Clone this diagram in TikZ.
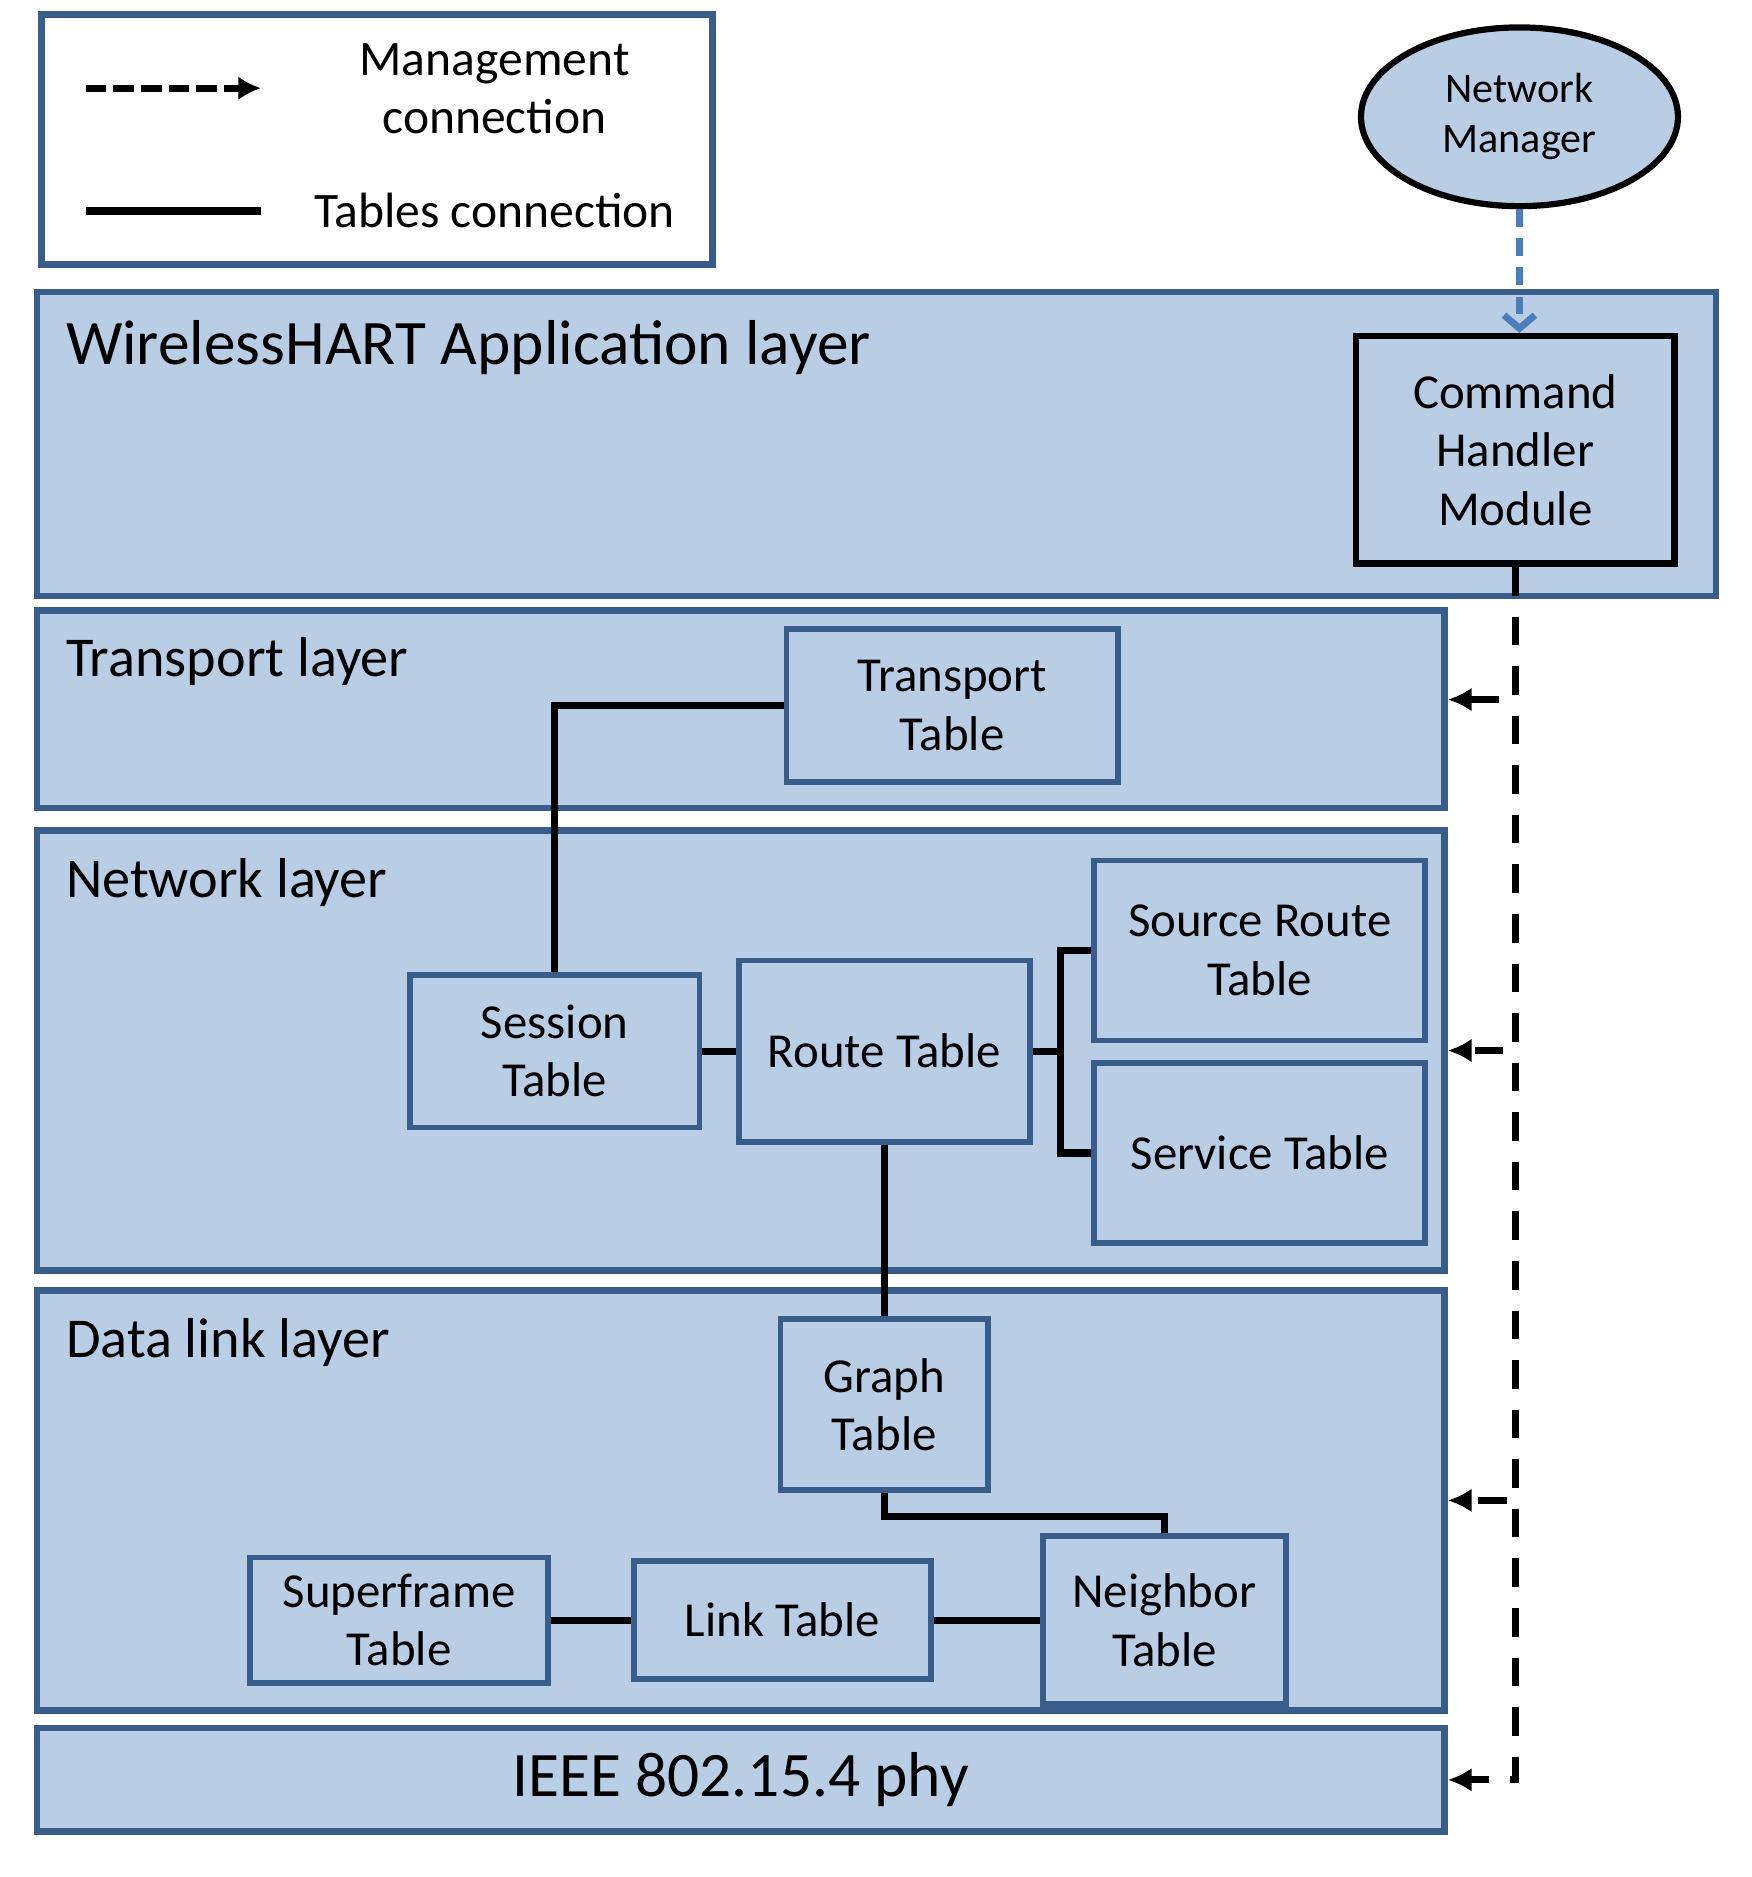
\documentclass[tikz,border=0pt]{standalone}
\usepackage{fontspec}
\setmainfont{Carlito}
\usetikzlibrary{arrows.meta,shapes.geometric}

\definecolor{layerfill}{HTML}{B9CDE5}
\definecolor{layerline}{HTML}{385D8A}
\definecolor{mgmtblue}{HTML}{4A7EBB}

\tikzset{
  layerbox/.style={draw=layerline, fill=layerfill, line width=2.8pt, inner sep=0pt},
  layertitle/.style={anchor=base west, inner sep=0pt, font=\fontsize{23.6}{28}\selectfont},
  tablebox/.style={draw=layerline, fill=layerfill, line width=2.4pt, inner sep=0pt,
    align=center, font=\fontsize{20.5}{24.5}\selectfont},
  tabline/.style={line width=3pt, black},
  mgmtline/.style={line width=3pt, black, dash pattern=on 12pt off 8.8pt,
    -{Latex[length=10pt,width=10pt]}},
  nmline/.style={line width=2.9pt, mgmtblue, dash pattern=on 7.5pt off 4.7pt,
    -{Straight Barb[length=5.5pt,width=13pt]}}
}

\begin{document}
\begin{tikzpicture}[x=0.5pt,y=-0.5pt]
  \useasboundingbox (0,0) rectangle (1470,1575);

  % legend
  \node[draw=layerline, fill=white, line width=2.8pt, minimum width=281.5pt, minimum height=105pt] (legend) at (316.5,117) {};
  \coordinate (mgmtfrom) at (72,74);
  \coordinate (mgmtto) at (219,74);
  \coordinate (tabfrom) at (72,177);
  \coordinate (tabto) at (219,177);
  \draw[line width=3.1pt, dash pattern=on 8.6pt off 3pt, -{Latex[length=9.5pt,width=10pt]}] (mgmtfrom) -- (mgmtto);
  \draw[line width=3.2pt] (tabfrom) -- (tabto);
  \node[align=center, font=\fontsize{20.8}{24.5}\selectfont] (mgmtlabel) at (415,74.5) {Management\\connection};
  \node[font=\fontsize{20.8}{24.5}\selectfont] (tablabel) at (415,177) {Tables connection};

  % layers
  \node[layerbox, minimum width=704.5pt, minimum height=127.5pt] (app) at (735.5,372.5) {};
  \node[layerbox, minimum width=590.5pt, minimum height=83pt] (trans) at (621.5,595) {};
  \node[layerbox, minimum width=590.5pt, minimum height=184.5pt] (net) at (621.5,881.5) {};
  \node[layerbox, minimum width=590.5pt, minimum height=176pt] (dll) at (621.5,1259) {};
  \node[layerbox, minimum width=590.5pt, minimum height=43.5pt, font=\fontsize{26.6}{31}\selectfont] (phy) at (621.5,1493.5) {IEEE 802.15.4 phy};

  \node[layertitle, font=\fontsize{26.6}{31}\selectfont] (apptitle) at (55,306) {WirelessHART Application layer};
  \node[layertitle] (transtitle) at (55,568) {Transport layer};
  \node[layertitle] (nettitle) at (55,753) {Network layer};
  \node[layertitle] (dlltitle) at (55,1139) {Data link layer};

  % manager and handler
  \node[ellipse, draw=black, fill=layerfill, line width=2.6pt, inner sep=0pt, align=center,
    minimum width=133pt, minimum height=75pt, font=\fontsize{17.7}{21}\selectfont] (nm) at (1275,98) {Network\\Manager};
  \node[draw=black, fill=layerfill, line width=2.7pt, inner sep=0pt, align=center,
    minimum width=133.5pt, minimum height=95.5pt, font=\fontsize{20.5}{24.5}\selectfont] (chm) at (1271.5,377.5) {Command\\Handler\\Module};

  % tables
  \node[tablebox, minimum width=139pt, minimum height=64pt] (transport) at (799,592) {Transport\\Table};
  \node[tablebox, minimum width=121.5pt, minimum height=64pt] (session) at (465.5,882) {Session\\Table};
  \node[tablebox, minimum width=122pt, minimum height=76pt] (route) at (742,882) {Route Table};
  \node[tablebox, minimum width=139pt, minimum height=75.5pt] (srcroute) at (1057,797.5) {Source Route\\Table};
  \node[tablebox, minimum width=139pt, minimum height=75.5pt] (service) at (1057,967.5) {Service Table};
  \node[tablebox, minimum width=87pt, minimum height=71.5pt] (graph) at (742,1178.5) {Graph\\Table};
  \node[tablebox, minimum width=125pt, minimum height=52.5pt] (superframe) at (335,1359.5) {Superframe\\Table};
  \node[tablebox, minimum width=124.5pt, minimum height=49.5pt] (link) at (656.5,1359.5) {Link Table};
  \node[tablebox, minimum width=102pt, minimum height=70.5pt] (neighbor) at (977,1359.5) {Neighbor\\Table};

  % tables connections
  \coordinate (fork) at (890,882);
  \draw[tabline] (transport.west) -| (session.north);
  \draw[tabline] (session) -- (route);
  \draw[tabline] (route.east) -- (fork);
  \draw[tabline] (srcroute.west) -| (fork) |- (service.west);
  \draw[tabline] (route.south) -- (graph.north);
  \draw[tabline] (graph.south) -- ++(0,20) -| (neighbor.north);
  \draw[tabline] (superframe) -- (link);
  \draw[tabline] (link) -- (neighbor);

  % management connections
  \draw[nmline] (nm.south) -- (nm.south |- chm.north);
  \draw[mgmtline] (chm.south) |- ([yshift=4pt]trans.east);
  \draw[mgmtline] (chm.south) |- (net.east);
  \draw[mgmtline] (chm.south) |- (dll.east);
  \draw[mgmtline] (chm.south) |- (phy.east);
\end{tikzpicture}
\end{document}
